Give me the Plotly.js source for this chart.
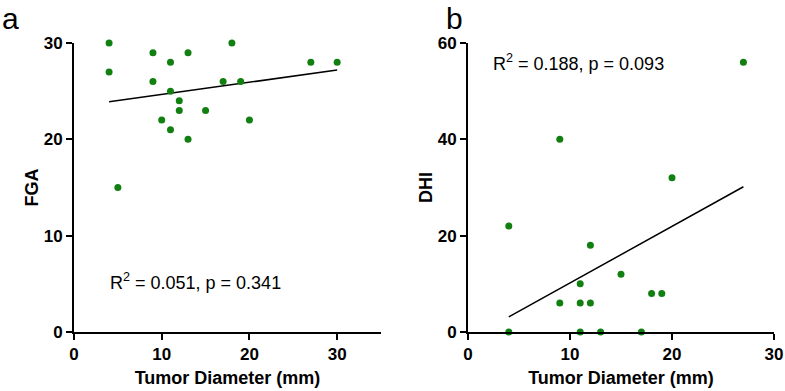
<!DOCTYPE html>
<html>
<head>
<meta charset="utf-8">
<script src="https://cdn.plot.ly/plotly-3.0.1.min.js"></script>
<style>html,body{margin:0;padding:0;background:#fff;}#chart{width:785px;height:391px;}</style>
</head>
<body>
<div id="chart"></div>
<script>
// Panel a: Tumor diameter (mm) vs FGA
const diamA = [4, 4, 5, 9, 9, 10, 11, 11, 11, 12, 12, 13, 13, 15, 17, 18, 19, 20, 27, 30];
const fga   = [30, 27, 15, 29, 26, 22, 28, 25, 21, 24, 23, 29, 20, 23, 26, 30, 26, 22, 28, 28];
// Panel b: Tumor diameter (mm) vs DHI
const diamB = [4, 4, 9, 9, 11, 11, 11, 12, 12, 13, 15, 17, 18, 19, 20, 27];
const dhi   = [22, 0, 40, 6, 10, 6, 0, 18, 6, 0, 12, 0, 8, 8, 32, 56];

const statA = "R<sup>2</sup> = 0.051, p = 0.341";
const statB = "R<sup>2</sup> = 0.188, p = 0.093";
const xTitle = "Tumor Diameter (mm)";

function fit(xs, ys) {
  const n = xs.length;
  const mx = xs.reduce((a, b) => a + b, 0) / n;
  const my = ys.reduce((a, b) => a + b, 0) / n;
  let sxy = 0, sxx = 0;
  for (let i = 0; i < n; i++) { sxy += (xs[i] - mx) * (ys[i] - my); sxx += (xs[i] - mx) ** 2; }
  const slope = sxy / sxx, icpt = my - slope * mx;
  const x0 = Math.min(...xs), x1 = Math.max(...xs);
  return { x: [x0, x1], y: [icpt + slope * x0, icpt + slope * x1] };
}

const green = "#118011";
const FONT = "Arial, 'Liberation Sans', Helvetica, sans-serif";
const fa = fit(diamA, fga), fb = fit(diamB, dhi);

const traces = [
  { x: fa.x, y: fa.y, mode: "lines", line: { color: "#000", width: 1.5 }, xaxis: "x", yaxis: "y", hoverinfo: "skip", cliponaxis: false },
  { x: diamA, y: fga, mode: "markers", marker: { color: green, size: 7 }, xaxis: "x", yaxis: "y", cliponaxis: false },
  { x: fb.x, y: fb.y, mode: "lines", line: { color: "#000", width: 1.5 }, xaxis: "x2", yaxis: "y2", hoverinfo: "skip", cliponaxis: false },
  { x: diamB, y: dhi, mode: "markers", marker: { color: green, size: 7 }, xaxis: "x2", yaxis: "y2", cliponaxis: false }
];

function axis(extra) {
  return Object.assign({
    showgrid: false, zeroline: false, showline: true, linecolor: "#000", linewidth: 2,
    ticks: "outside", ticklen: 6, tickwidth: 2, tickcolor: "#000",
    tickfont: { family: FONT, size: 17, color: "#000", weight: "bold" },
    fixedrange: true
  }, extra);
}

const yDom = [1 - 332 / 391, 1 - 43 / 391];
const layout = {
  width: 785, height: 391,
  margin: { l: 0, r: 0, t: 0, b: 0 },
  paper_bgcolor: "#fff", plot_bgcolor: "#fff",
  showlegend: false,
  font: { family: FONT, color: "#000" },
  xaxis: axis({ domain: [74 / 785, 381 / 785], range: [0, 35], tickvals: [0, 10, 20, 30], anchor: "y",
    title: { text: xTitle, font: { family: FONT, size: 18, weight: "bold", color: "#000" }, standoff: 8 } }),
  yaxis: axis({ domain: yDom, range: [0, 30], tickvals: [0, 10, 20, 30], anchor: "x",
    title: { text: "FGA", font: { family: FONT, size: 18, weight: "bold", color: "#000" }, standoff: 0 } }),
  xaxis2: axis({ domain: [468 / 785, 774 / 785], range: [0, 30], tickvals: [0, 10, 20, 30], anchor: "y2",
    title: { text: xTitle, font: { family: FONT, size: 18, weight: "bold", color: "#000" }, standoff: 8 } }),
  yaxis2: axis({ domain: yDom, range: [0, 60], tickvals: [0, 20, 40, 60], anchor: "x2",
    title: { text: "DHI", font: { family: FONT, size: 18, weight: "bold", color: "#000" }, standoff: 0 } }),
  annotations: [
    { text: statA, xref: "x", yref: "y", x: 13.8, y: 5.2, showarrow: false, xanchor: "center", yanchor: "middle",
      font: { family: FONT, size: 18, color: "#000" } },
    { text: statB, xref: "x2", yref: "y2", x: 10.85, y: 56, showarrow: false, xanchor: "center", yanchor: "middle",
      font: { family: FONT, size: 18, color: "#000" } },
    { text: "a", xref: "paper", yref: "paper", x: 0, y: 1 - 19 / 391, showarrow: false, xanchor: "left", yanchor: "middle",
      font: { family: FONT, size: 30, color: "#000" } },
    { text: "b", xref: "paper", yref: "paper", x: 444 / 785, y: 1 - 19 / 391, showarrow: false, xanchor: "left", yanchor: "middle",
      font: { family: FONT, size: 30, color: "#000" } }
  ]
};

Plotly.newPlot("chart", traces, layout, { displayModeBar: false, staticPlot: true });
</script>
</body>
</html>
